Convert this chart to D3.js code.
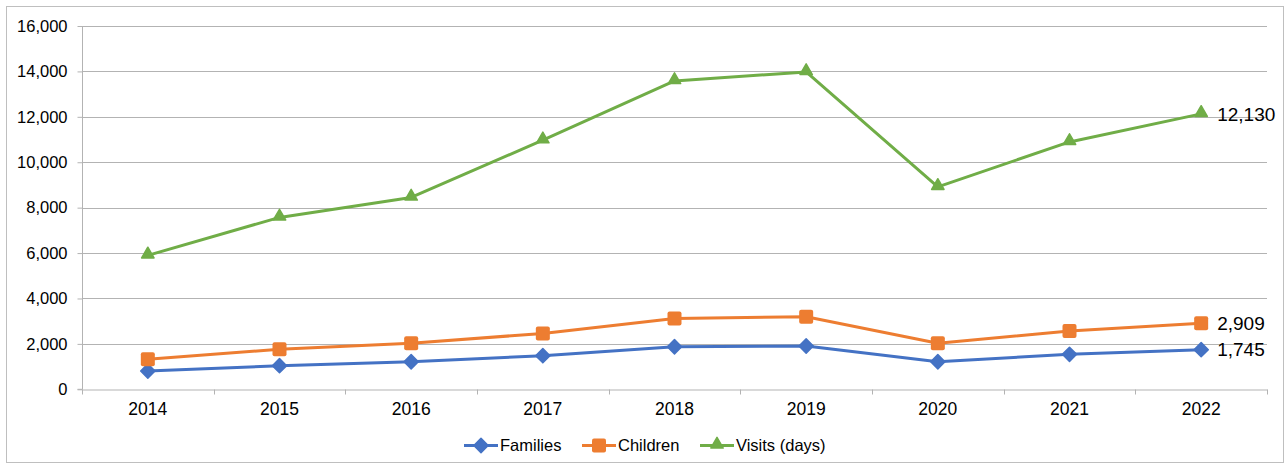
<!DOCTYPE html>
<html><head><meta charset="utf-8">
<script src="https://cdn.jsdelivr.net/npm/d3@7"></script>
<style>body{margin:0;background:#fff}svg{display:block;font-family:"Liberation Sans",Arial,sans-serif}</style>
</head><body><svg id="c" width="1287" height="466"></svg>
<script>
const years = ["2014","2015","2016","2017","2018","2019","2020","2021","2022"];
const families = [805, 1040, 1215, 1480, 1875, 1905, 1215, 1540, 1745];
const children = [1320, 1760, 2030, 2460, 3120, 3195, 2025, 2565, 2909];
const visits = [5900, 7570, 8450, 10970, 13580, 13975, 8915, 10895, 12130];
const yTicks = [0, 2000, 4000, 6000, 8000, 10000, 12000, 14000, 16000];
const seriesNames = ["Families", "Children", "Visits (days)"];
const colors = ["#4472C4", "#ED7D31", "#70AD47"];

const svg = d3.select("#c");
svg.append("rect").attr("x",6.5).attr("y",6.5).attr("width",1277).attr("height",456)
  .attr("fill","#fff").attr("stroke","#bfbfbf");

const L=82, R=1267, T=26, B=389.3;
const x = d3.scaleBand().domain(years).range([L,R]);
const y = d3.scaleLinear().domain([0,16000]).range([B,T]);
const fmt = d3.format(",");

// grid
svg.append("g").selectAll("line").data(yTicks.slice(1)).join("line")
  .attr("x1",L).attr("x2",R).attr("y1",d=>Math.round(y(d))+0.5).attr("y2",d=>Math.round(y(d))+0.5)
  .attr("stroke","#b3b3b3").attr("stroke-width",1);

// y axis
const ya = svg.append("g").attr("transform",`translate(${L+0.5},0)`)
  .call(d3.axisLeft(y).tickValues(yTicks).tickFormat(fmt).tickSize(5).tickPadding(10));
ya.attr("font-size",null).attr("font-family",null);
ya.select(".domain").attr("stroke","#b3b3b3").attr("d",`M-5,${B}H0V${T}`);
ya.selectAll(".tick line").attr("stroke","#b3b3b3");
ya.selectAll("text").style("font-size","16.5px").style("fill","#000");

// x axis
const xa = svg.append("g").attr("transform",`translate(0,${Math.round(B)+0.5})`)
  .call(d3.axisBottom(x).tickSize(0).tickPadding(13));
xa.attr("font-size",null).attr("font-family",null);
xa.select(".domain").attr("stroke","#b3b3b3");
xa.selectAll("text").style("font-size","17.5px").style("fill","#000");
xa.selectAll(".bnd").data(d3.range(years.length+1)).join("line")
  .attr("x1",i=>Math.round(L+i*x.step())+0.5).attr("x2",i=>Math.round(L+i*x.step())+0.5)
  .attr("y1",0).attr("y2",5).attr("stroke","#b3b3b3");

const cx = d=>x(d)+x.bandwidth()/2;

function drawMarker(g, k){
  if(k===1){
    g.append("rect").attr("x",-7).attr("y",-7).attr("width",14).attr("height",14).attr("rx",2)
      .attr("fill",colors[k]);
  } else if(k===0){
    g.append("path").attr("d",d3.symbol(d3.symbolDiamond2, 130)()).attr("fill",colors[k])
      .attr("stroke",colors[k]).attr("stroke-width",1.5).attr("stroke-linejoin","round");
  } else {
    g.append("path").attr("d",d3.symbol(d3.symbolTriangle2, 110)()).attr("fill",colors[k])
      .attr("stroke",colors[k]).attr("stroke-width",1.5).attr("stroke-linejoin","round")
      .attr("transform","translate(0,-1)");
  }
}

[families, children, visits].forEach((vals,k)=>{
  const line = d3.line().x((d,i)=>cx(years[i])).y(d=>y(d));
  svg.append("path").datum(vals).attr("d",line).attr("fill","none")
    .attr("stroke",colors[k]).attr("stroke-width",3).attr("stroke-linejoin","round");
  vals.forEach((v,i)=>{
    const g = svg.append("g").attr("transform",`translate(${cx(years[i])},${y(v)})`);
    drawMarker(g,k);
  });
  const last = vals[vals.length-1];
  svg.append("text").attr("x",cx(years[8])+16).attr("y",y(last)).attr("dy","0.35em")
    .style("font-size","19px").style("fill","#000").text(fmt(last));
});

// legend
const legX = [464, 582, 700];
seriesNames.forEach((n,k)=>{
  const g = svg.append("g").attr("transform",`translate(${legX[k]},445.5)`);
  g.append("line").attr("x1",0).attr("x2",34).attr("stroke",colors[k]).attr("stroke-width",3);
  const m = g.append("g").attr("transform","translate(17,0)");
  drawMarker(m,k);
  g.append("text").attr("x",36).attr("dy","0.35em").style("font-size","16.5px").style("fill","#000").text(n);
});
</script></body></html>
